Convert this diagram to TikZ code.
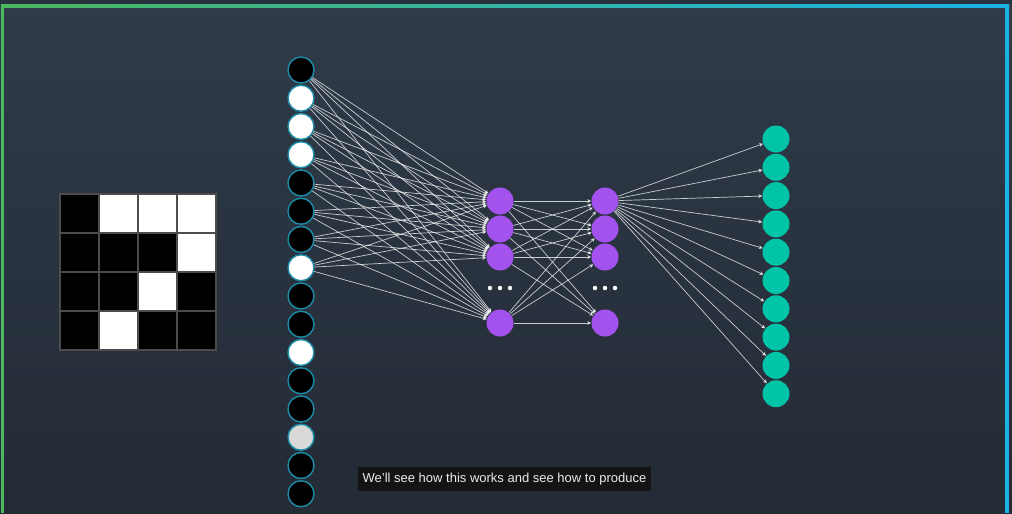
\documentclass[tikz,border=0pt]{standalone}
\usepackage{fontspec}
\setsansfont{Liberation Sans}
\usetikzlibrary{arrows.meta, positioning, calc}
\definecolor{bgtop}{HTML}{2F3B4A}
\definecolor{bgbot}{HTML}{232B35}
\definecolor{framegreen}{HTML}{4CB860}
\definecolor{framecyan}{HTML}{1BB2E6}
\definecolor{ringteal}{HTML}{1C8BA5}
\definecolor{hidpurple}{HTML}{A452EE}
\definecolor{outteal}{HTML}{00C4A7}

\begin{document}
\begin{tikzpicture}[
    x=0.2mm, y=-0.2mm,
    inp/.style={circle, draw=ringteal, line width=0.8pt, minimum size=5.2mm, inner sep=0pt},
    hid/.style={circle, fill=hidpurple, minimum size=5.4mm, inner sep=0pt},
    outn/.style={circle, fill=outteal, minimum size=5.4mm, inner sep=0pt},
    wire/.style={-{Stealth[length=2.2pt, width=2.2pt]}, draw=white!90!gray, line width=0.4pt, opacity=0.8},
    cell/.style={draw=gray!60!black, line width=0.6pt}
]
\useasboundingbox (0,0) rectangle (1012,513);
% background and the coloured frame
\shade[top color=bgtop, bottom color=bgbot] (0,0) rectangle (1012,513);
\fill[bgtop!85!black] (0,0) rectangle (1012,4);
\shade[left color=framegreen, right color=framecyan] (1,4) rectangle (1009,7);
\fill[framegreen] (1,4) rectangle (4,513);
\fill[framecyan] (1005,4) rectangle (1009,513);
% 4x4 pixel image, black!100 = black pixel
\foreach \v [count=\k from 0] in {100,0,0,0, 100,100,100,0, 100,100,0,100, 100,0,100,100} {
  \pgfmathsetmacro\cx{60+39*mod(\k,4)}
  \pgfmathsetmacro\cy{194+39*int(\k/4)}
  \filldraw[cell, fill=black!\v] (\cx,\cy) rectangle ++(39,39);
}
% input column, one circle per pixel
\foreach \v [count=\i] in {100,0,0,0,100,100,100,0,100,100,0,100,100,15,100,100}
  \node[inp, fill=black!\v] (I\i) at (301,{70+28.25*(\i-1)}) {};
% two hidden layers
\foreach \y [count=\j] in {201,229,257,323} {
  \node[hid] (A\j) at (500,\y) {};
  \node[hid] (B\j) at (605,\y) {};
}
\foreach \dx in {-10,0,10} {
  \fill[white] (500+\dx,288) circle[radius=0.45mm];
  \fill[white] (605+\dx,288) circle[radius=0.45mm];
}
% output layer
\foreach \i in {1,...,10}
  \node[outn] (O\i) at (776,{139+28.3*(\i-1)}) {};
% connections (only the first eight inputs are wired)
\foreach \i in {1,...,8}
  \foreach \j in {1,...,4}
    \draw[wire] (I\i) -- (A\j);
\foreach \i in {1,...,4}
  \foreach \j in {1,...,4}
    \draw[wire] (A\i) -- (B\j);
\foreach \k in {1,...,10}
  \draw[wire] (B1) -- (O\k);
% subtitle
\node[fill=black!92, text=white!92!black, font=\sffamily\fontsize{7.4}{8}\selectfont,
      inner xsep=2.6pt, minimum height=3.6mm] (caption) at (504.5,479)
  {We'll see how this works and see how to produce};
\end{tikzpicture}
\end{document}
